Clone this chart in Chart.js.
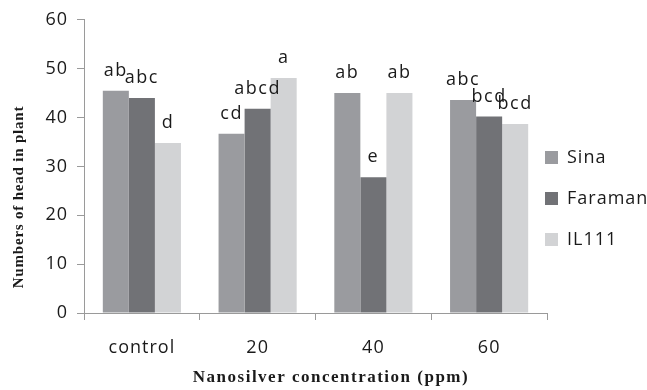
<!DOCTYPE html>
<html><head><meta charset="utf-8">
<script src="https://cdn.jsdelivr.net/npm/chart.js@4"></script>
<style>html,body{margin:0;padding:0;background:#fff}#wrap{width:647px;height:390px;position:relative}</style>
</head><body><div id="wrap"><canvas id="c"></canvas></div>
<script>
const categories = ['control', '20', '40', '60'];
const seriesNames = ['Sina', 'Faraman', 'IL111'];
const sina = [45.5, 36.7, 45.0, 43.6];
const faraman = [44.0, 41.8, 27.8, 40.2];
const il111 = [34.8, 48.1, 45.0, 38.7];
const sinaLetters = ['ab', 'cd', 'ab', 'abc'];
const faramanLetters = ['abc', 'abcd', 'e', 'bcd'];
const il111Letters = ['d', 'a', 'ab', 'bcd'];
const yTicks = [0, 10, 20, 30, 40, 50, 60];
const xTitle = 'Nanosilver concentration (ppm)';
const yTitle = 'Numbers of head in plant';

const TEXT = '#1a1a1a';
const AXIS = '#9a9a9a';
const SANS = '"Open Sans", "DejaVu Sans", sans-serif';
const SERIF = '"Liberation Serif", "DejaVu Serif", serif';

const spacingPlugin = {
  id: 'spacing',
  beforeUpdate(c) { c.ctx.letterSpacing = '1px'; },
  afterLayout(c) {
    if (c.legend) {
      c.legend.left = c.chartArea.right - 25;
      c.legend.top = c.legend.top - 3;
    }
  },
  beforeDraw(c) { c.ctx.letterSpacing = '1px'; }
};

const barLetters = {
  id: 'barLetters',
  afterDatasetsDraw(c) {
    const ctx = c.ctx;
    ctx.save();
    ctx.letterSpacing = '1.5px';
    ctx.font = '18px ' + SANS;
    ctx.fillStyle = TEXT;
    ctx.textAlign = 'center';
    ctx.textBaseline = 'alphabetic';
    c.data.datasets.forEach((ds, i) => {
      c.getDatasetMeta(i).data.forEach((bar, j) => {
        ctx.fillText(ds.letters[j], bar.x, bar.y - 15);
      });
    });
    ctx.restore();
  }
};

const titles = {
  id: 'titles',
  afterDraw(c) {
    const ctx = c.ctx;
    ctx.save();
    ctx.fillStyle = TEXT;
    ctx.textAlign = 'center';
    ctx.textBaseline = 'middle';
    ctx.letterSpacing = '1.5px';
    ctx.font = 'bold 17px ' + SERIF;
    ctx.fillText(xTitle, 331, 378);
    ctx.translate(19, 197);
    ctx.rotate(-Math.PI / 2);
    ctx.letterSpacing = '0.8px';
    ctx.font = 'bold 15px ' + SERIF;
    ctx.fillText(yTitle, 0, 0);
    ctx.restore();
  }
};

const makeSet = (label, data, letters, color) => ({
  label, data, letters, backgroundColor: color, borderWidth: 0,
  categoryPercentage: 0.675, barPercentage: 1.0
});

new Chart(document.getElementById('c'), {
  type: 'bar',
  data: {
    labels: categories,
    datasets: [
      makeSet(seriesNames[0], sina, sinaLetters, '#9a9b9f'),
      makeSet(seriesNames[1], faraman, faramanLetters, '#717276'),
      makeSet(seriesNames[2], il111, il111Letters, '#d2d3d5')
    ]
  },
  options: {
    responsive: true,
    maintainAspectRatio: false,
    animation: false,
    devicePixelRatio: 1,
    layout: { padding: { top: 10, left: 0, right: 0, bottom: 0 } },
    plugins: {
      tooltip: { enabled: false },
      legend: {
        position: 'right',
        maxWidth: 100,
        labels: {
          boxWidth: 13, boxHeight: 13, padding: 23,
          color: TEXT,
          font: { family: SANS, size: 18 }
        }
      }
    },
    scales: {
      x: {
        offset: true,
        grid: { display: true, drawOnChartArea: false, offset: true, tickLength: 7, color: AXIS },
        border: { color: AXIS },
        ticks: { color: TEXT, font: { family: SANS, size: 18 }, padding: 17 },
        afterFit(s) { s.height = 77; }
      },
      y: {
        min: 0, max: 60,
        grid: { drawOnChartArea: false, tickLength: 7, color: AXIS },
        border: { color: AXIS },
        ticks: { color: TEXT, font: { family: SANS, size: 18 }, padding: 9, stepSize: 10 },
        afterBuildTicks(s) { s.ticks = yTicks.map(v => ({ value: v })); },
        afterFit(s) { s.width = 84; }
      }
    }
  },
  plugins: [spacingPlugin, barLetters, titles]
});
</script>
</body></html>
